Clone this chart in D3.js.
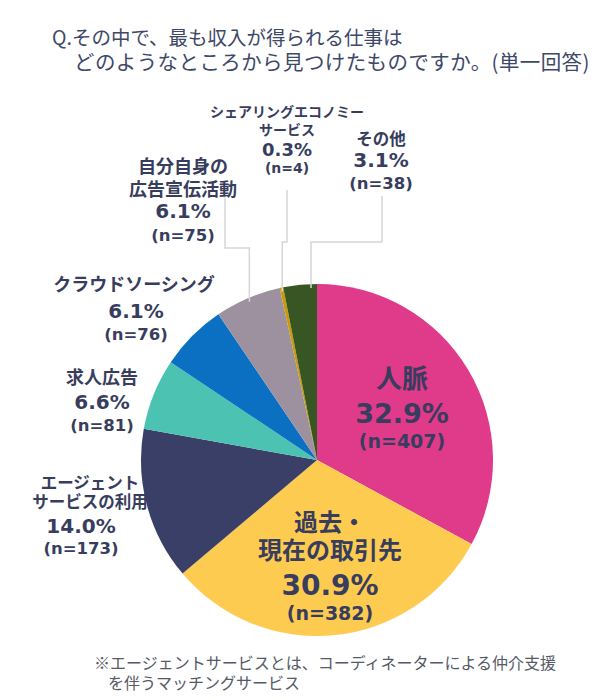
<!DOCTYPE html>
<html>
<head>
<meta charset="utf-8">
<script src="https://cdn.jsdelivr.net/npm/d3@7"></script>
<style>
  html, body { margin: 0; padding: 0; background: #ffffff; }
  svg { display: block; }
</style>
</head>
<body>
<div id="chart"></div>
<script>
// ---------------- data ----------------
const categories = ["人脈", "過去・現在の取引先", "エージェントサービスの利用", "求人広告", "クラウドソーシング", "自分自身の広告宣伝活動", "シェアリングエコノミーサービス", "その他"];
const labelLines = [["人脈"], ["過去・", "現在の取引先"], ["エージェント", "サービスの利用"], ["求人広告"], ["クラウドソーシング"], ["自分自身の", "広告宣伝活動"], ["シェアリングエコノミー", "サービス"], ["その他"]];
const percents = [32.9, 30.9, 14.0, 6.6, 6.1, 6.1, 0.3, 3.1];
const counts = [407, 382, 173, 81, 76, 75, 4, 38];
const colors = ["#e03a8a", "#fdcb50", "#393f66", "#4cc3b2", "#0b70c2", "#9d919f", "#c99a0a", "#385623"];
const titleLines = ["Q.その中で、最も収入が得られる仕事は", "どのようなところから見つけたものですか。(単一回答)"];
const noteLines = ["※エージェントサービスとは、コーディネーターによる仲介支援", "を伴うマッチングサービス"];

// ---------------- layout ----------------
const W = 600, H = 700;
const cx = 317, cy = 460, R = 176;
const textColor = "#383d5e";
const jp = "'Noto Sans CJK JP', sans-serif";
const num = "'DejaVu Sans', 'Noto Sans CJK JP', sans-serif";

// label layout: center x, baselines, font sizes, optional leader line
const labelLayout = [
  { x: 402, nameY: [388], pctY: 423, nY: 448, fName: 26, fPct: 27, fN: 19 },
  { x: 330, nameY: [531, 559], pctY: 595, nY: 620, fName: 24, fPct: 28, fN: 19 },
  { x: 90, xNum: 81, nameY: [489, 508], pctY: 533, nY: 554, fName: 16.5, fPct: 20, fN: 16.5 },
  { x: 102, nameY: [384], pctY: 409, nY: 431, fName: 18, fPct: 20, fN: 16.5 },
  { x: 134, xNum: 136, nameY: [291], pctY: 318, nY: 340, fName: 18, fPct: 20, fN: 16.5 },
  { x: 183, nameY: [173, 196], pctY: 218, nY: 241, fName: 18, fPct: 20, fN: 16.5,
    leader: { x0: 225, y0: 196, elbowY: 248, frac: 0.5 } },
  { x: 287, nameY: [117, 135], pctY: 156, nY: 173, fName: 14, fPct: 18, fN: 14,
    leader: { x0: 287, y0: 190, elbowY: 242, frac: 0.5 } },
  { x: 381, nameY: [145], pctY: 167, nY: 189, fName: 16.5, fPct: 20, fN: 16.5,
    leader: { x0: 382, y0: 196, elbowY: 242, frac: 0.82 } }
];

const svg = d3.select("#chart").append("svg")
  .attr("width", W).attr("height", H)
  .attr("viewBox", `0 0 ${W} ${H}`);

// title
const title = svg.append("g").attr("fill", "#3e4868").attr("font-family", jp);
title.append("text").attr("x", 52).attr("y", 45).attr("font-size", 19.5).text(titleLines[0]);
title.append("text").attr("x", 74).attr("y", 70).attr("font-size", 20.5).attr("letter-spacing", 0.4).text(titleLines[1]);

// pie
const data = categories.map((c, i) => ({ name: c, lines: labelLines[i], pct: percents[i], n: counts[i], color: colors[i], layout: labelLayout[i] }));
const pie = d3.pie().sort(null).value(d => d.n).startAngle(0).endAngle(2 * Math.PI);
const arcs = pie(data);
const arc = d3.arc().innerRadius(0).outerRadius(R);

const g = svg.append("g").attr("transform", `translate(${cx},${cy})`);
g.selectAll("path.slice").data(arcs).join("path")
  .attr("class", "slice")
  .attr("d", arc)
  .attr("fill", d => d.data.color)
  .attr("stroke", "none");

// leader lines
arcs.forEach(a => {
  const L = a.data.layout.leader;
  if (!L) return;
  const ang = a.startAngle + (a.endAngle - a.startAngle) * L.frac;
  const ex = cx + (R - 4) * Math.sin(ang);
  const ey = cy - (R - 4) * Math.cos(ang);
  const path = d3.path();
  path.moveTo(L.x0, L.y0);
  path.lineTo(L.x0, L.elbowY);
  path.lineTo(ex, L.elbowY);
  path.lineTo(ex, ey);
  svg.append("path").attr("d", path.toString())
    .attr("fill", "none").attr("stroke", "#d6d6d6").attr("stroke-width", 1.5);
});

// labels
arcs.forEach(a => {
  const d = a.data, Lo = d.layout;
  const xn = Lo.xNum != null ? Lo.xNum : Lo.x;
  const tg = svg.append("g").attr("fill", textColor).attr("text-anchor", "middle").attr("font-weight", "bold");
  d.lines.forEach((ln, k) => {
    tg.append("text").attr("x", Lo.x).attr("y", Lo.nameY[k])
      .attr("font-family", jp).attr("font-size", Lo.fName).text(ln);
  });
  tg.append("text").attr("x", xn).attr("y", Lo.pctY)
    .attr("font-family", num).attr("font-size", Lo.fPct).text(d3.format(".1f")(d.pct) + "%");
  tg.append("text").attr("x", xn).attr("y", Lo.nY)
    .attr("font-family", num).attr("font-size", Lo.fN).text(`(n=${d.n})`);
});

// footnote
const note = svg.append("g").attr("fill", "#555a66").attr("font-family", jp).attr("font-size", 16);
note.append("text").attr("x", 94).attr("y", 669).text(noteLines[0]);
note.append("text").attr("x", 108).attr("y", 689).text(noteLines[1]);
</script>
</body>
</html>
